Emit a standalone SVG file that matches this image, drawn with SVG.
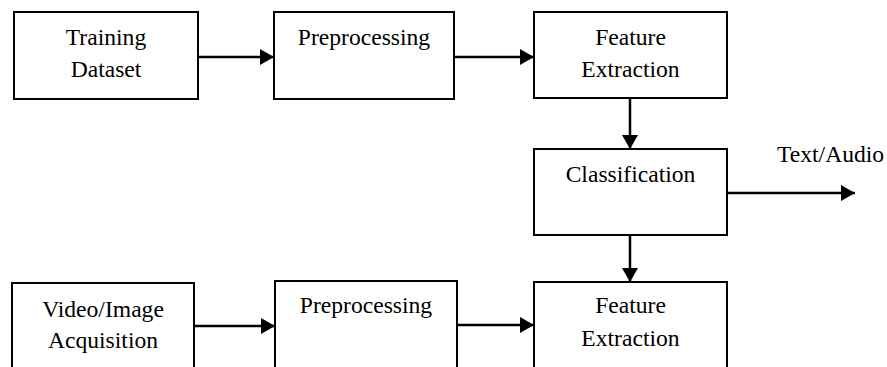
<svg xmlns="http://www.w3.org/2000/svg" width="887" height="367" viewBox="0 0 887 367">
<defs>
<style>
.box{fill:#fff;stroke:#000;stroke-width:2}
.lbl{font-family:"Liberation Serif","Times New Roman",serif;font-size:23.6px;fill:#000;text-anchor:middle}
.con{stroke:#000;stroke-width:2.5;fill:none;marker-end:url(#ah)}
</style>
<marker id="ah" markerUnits="userSpaceOnUse" markerWidth="15" markerHeight="16" refX="14" refY="8" orient="auto">
<path d="M0,0 L14,8 L0,16 Z" fill="#000"/>
</marker>
</defs>
<rect width="887" height="367" fill="#fff"/>
<g id="training">
<rect class="box" x="14" y="12" width="184" height="87"/>
<text class="lbl" x="106" y="45">Training</text>
<text class="lbl" x="106" y="77">Dataset</text>
</g>
<g id="prep1">
<rect class="box" x="274" y="12" width="180" height="87"/>
<text class="lbl" x="364" y="45">Preprocessing</text>
</g>
<g id="feat1">
<rect class="box" x="534" y="12" width="193" height="86"/>
<text class="lbl" x="630.5" y="45">Feature</text>
<text class="lbl" x="630.5" y="77">Extraction</text>
</g>
<g id="classification">
<rect class="box" x="534" y="149" width="193" height="86"/>
<text class="lbl" x="630.5" y="182">Classification</text>
</g>
<g id="output">
<text class="lbl" x="777" y="162" style="text-anchor:start">Text/Audio</text>
</g>
<g id="video">
<rect class="box" x="12" y="283" width="182" height="100"/>
<text class="lbl" x="103" y="317">Video/Image</text>
<text class="lbl" x="103" y="348">Acquisition</text>
</g>
<g id="prep2">
<rect class="box" x="275" y="281" width="182" height="100"/>
<text class="lbl" x="366" y="313">Preprocessing</text>
</g>
<g id="feat2">
<rect class="box" x="534" y="282" width="193" height="100"/>
<text class="lbl" x="630.5" y="313">Feature</text>
<text class="lbl" x="630.5" y="346">Extraction</text>
</g>
<g id="connectors">
<line class="con" x1="198" y1="57" x2="274" y2="57"/>
<line class="con" x1="454" y1="57" x2="534" y2="57"/>
<line class="con" x1="630" y1="98" x2="630" y2="149"/>
<line class="con" x1="727" y1="193" x2="855" y2="193"/>
<line class="con" x1="630" y1="235" x2="630" y2="282"/>
<line class="con" x1="194" y1="326" x2="275" y2="326"/>
<line class="con" x1="457" y1="325" x2="534" y2="325"/>
</g>
</svg>
